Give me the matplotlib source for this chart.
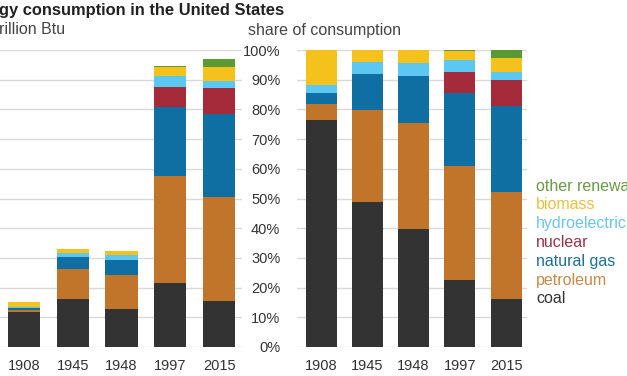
"""Energy consumption in the United States: absolute and share, by source."""
import matplotlib.pyplot as plt
import numpy as np

plt.rcParams["font.family"] = ["Liberation Sans", "DejaVu Sans"]

years = ["1908", "1945", "1948", "1997", "2015"]
sources = [
    "coal",
    "petroleum",
    "natural gas",
    "nuclear",
    "hydroelectric",
    "biomass",
    "other renewables",
]
# quadrillion Btu
coal = [11.7, 16.1, 12.8, 21.4, 15.6]
petroleum = [0.84, 10.2, 11.5, 36.3, 34.9]
natural_gas = [0.52, 4.0, 5.1, 23.1, 28.1]
nuclear = [0.0, 0.0, 0.0, 6.7, 8.5]
hydroelectric = [0.46, 1.35, 1.45, 3.8, 2.5]
biomass = [1.78, 1.32, 1.42, 2.9, 4.7]
other_renewables = [0.0, 0.0, 0.0, 0.4, 2.6]

colors = ["#333333", "#c1752a", "#0f6fa3", "#a52a3a", "#5cc8f2", "#f5c11c", "#5a9a32"]
text_colors = ["#333333", "#c48a49", "#1e6f96", "#9a3344", "#6cc5ea", "#e8c040", "#6a9a45"]

values = np.array(
    [coal, petroleum, natural_gas, nuclear, hydroelectric, biomass, other_renewables]
)
shares = values / values.sum(axis=0) * 100

W, H = 627, 376
fig = plt.figure(figsize=(W / 100, H / 100), dpi=100)


def px_axes(x0, x1, y_top, y_bot):
    return fig.add_axes([x0 / W, 1 - y_bot / H, (x1 - x0) / W, (y_bot - y_top) / H])


def style(ax):
    ax.set_ylim(0, 100)
    ax.set_yticks(np.arange(0, 101, 10))
    ax.grid(axis="y", color="#d9d9d9", linewidth=1)
    ax.set_axisbelow(True)
    for s in ax.spines.values():
        s.set_visible(False)
    ax.tick_params(length=0, labelsize=10.5, colors="#333333")
    ax.set_xticks(range(len(years)))
    ax.set_xticklabels(years)


def stack(ax, data, width):
    x = np.arange(len(years))
    bottom = np.zeros(len(years))
    for row, c in zip(data, colors):
        ax.bar(x, row, width, bottom=bottom, color=c, linewidth=0)
        bottom += row


# left panel: quadrillion Btu
ax1 = px_axes(0, 242, 50, 347)
style(ax1)
stack(ax1, values, 0.66)
ax1.set_xlim(-0.49, 4.47)
ax1.set_yticklabels([])
ax1.tick_params(axis="x", pad=9)

# right panel: share of consumption
ax2 = px_axes(297, 527, 50, 347)
style(ax2)
stack(ax2, shares, 0.67)
ax2.set_xlim(-0.52, 4.45)
ax2.set_yticklabels([f"{v}%" for v in range(0, 101, 10)])
ax2.tick_params(axis="y", pad=12)
ax2.tick_params(axis="x", pad=9)

fig.text(-1 / W, 1 - 10 / H, "gy consumption in the United States", fontsize=11.9,
         fontweight="bold", color="#222222", va="center", ha="left")
fig.text(-1 / W, 1 - 30 / H, "rillion Btu", fontsize=11.5, color="#444444",
         va="center", ha="left")
fig.text(248 / W, 1 - 30 / H, "share of consumption", fontsize=11.5,
         color="#444444", va="center", ha="left")

# legend as coloured text, top entry first
for i, (name, c) in enumerate(zip(sources[::-1], text_colors[::-1])):
    fig.text(536 / W, 1 - (186 + i * 18.8) / H, name, fontsize=11.5, color=c,
             va="center", ha="left")

fig.savefig("out.png", dpi=100)
